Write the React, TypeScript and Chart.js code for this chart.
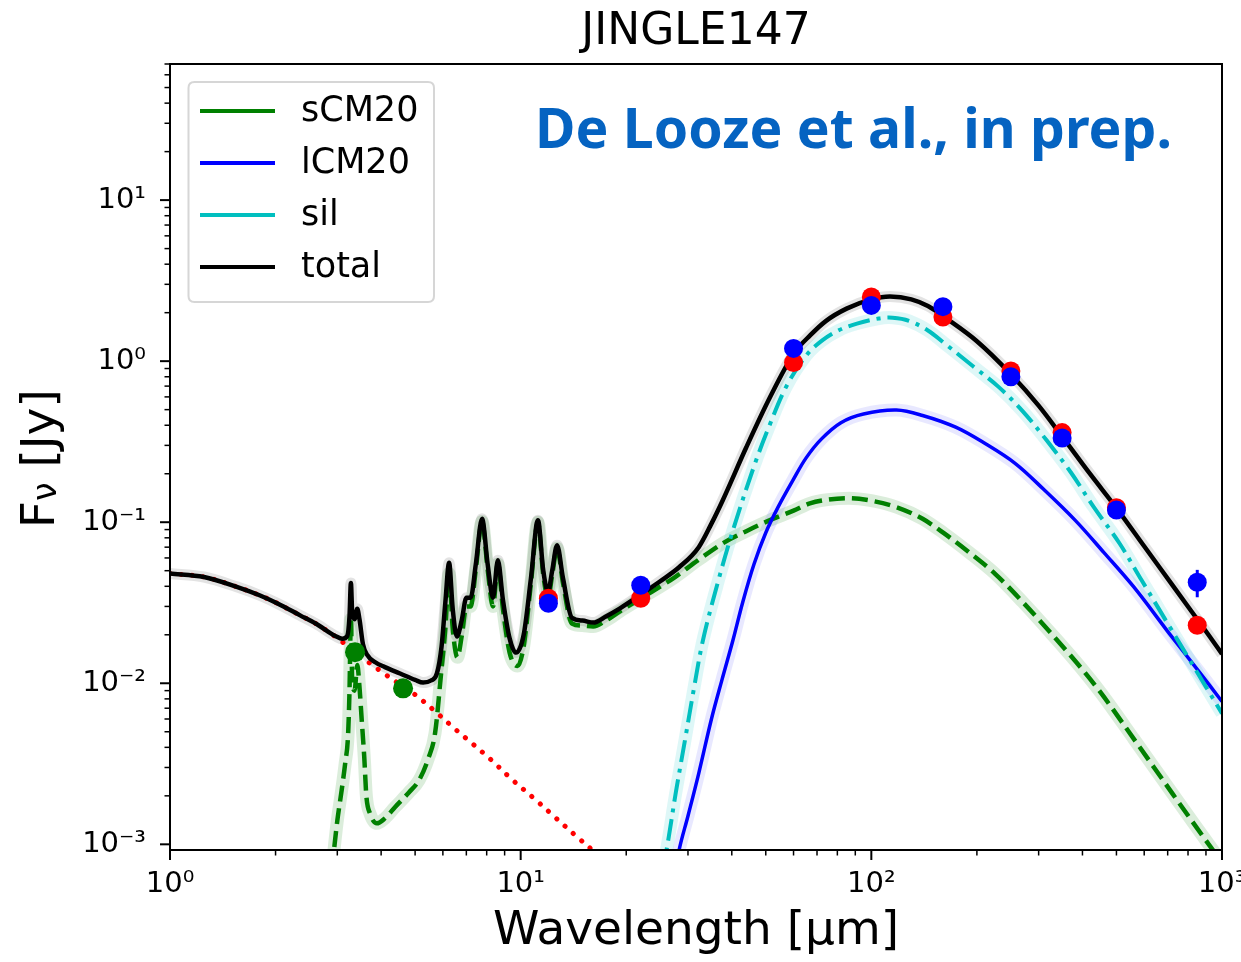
import React, { useEffect, useRef } from "react";
import { Chart, registerables } from "chart.js";

Chart.register(...registerables);

// ---------------- data ----------------
const titleText = "JINGLE147";
const xAxisTitle = "Wavelength [μm]";
const yTitleParts = ["F", "ν", " [Jy]"];
const annotationText = "De Looze et al., in prep.";

const xTickValues = [1, 10, 100, 1000];
const xTickLabels = ["10⁰", "10¹", "10²", "10³"];
const yTickValues = [0.001, 0.01, 0.1, 1, 10];
const yTickLabels = ["10⁻³", "10⁻²", "10⁻¹", "10⁰", "10¹"];

// stellar component (red dotted)
const stellarX = [1, 1.25, 1.55, 1.8, 2.02, 2.35, 2.61, 2.97, 3.3, 3.7, 4.1, 4.6, 5.0, 5.7, 6.5, 7.3, 8.17, 9.5, 11, 12.5, 14.5, 16.3, 18.5];
const stellarY = [0.048, 0.0457, 0.0397, 0.0352, 0.0314, 0.0264, 0.0234, 0.0194, 0.0162, 0.0134, 0.0114, 0.0096, 0.0085, 0.0067, 0.0052, 0.0042, 0.0034, 0.0025, 0.0019, 0.00148, 0.00111, 0.00089, 0.00069];

// total model (black)
const totalX = [1, 1.25, 1.55, 1.8, 2.02, 2.35, 2.61, 2.97, 3.1, 3.2, 3.25, 3.28, 3.31, 3.36, 3.42, 3.47, 3.55, 3.65, 3.85, 4.1, 4.53, 5.0, 5.27, 5.55, 5.77, 5.95, 6.1, 6.25, 6.4, 6.58, 6.8, 7.0, 7.2, 7.45, 7.76, 8.05, 8.34, 8.61, 8.9, 9.3, 9.7, 10.2, 10.7, 11.2, 11.6, 11.97, 12.3, 12.7, 13.2, 14.0, 15.0, 16.1, 17.5, 19.2, 22.2, 25, 28.3, 32.2, 35, 37.7, 44, 51.4, 60.2, 67, 74.3, 85, 100, 113, 130, 145, 165, 200, 250, 300, 352, 420, 505, 600, 724, 820, 918, 1000];
const totalY = [0.048, 0.0457, 0.0397, 0.0352, 0.0314, 0.0264, 0.0234, 0.0196, 0.0189, 0.0196, 0.026, 0.042, 0.027, 0.025, 0.029, 0.025, 0.0175, 0.015, 0.0135, 0.0126, 0.0115, 0.0105, 0.0101, 0.0104, 0.0115, 0.017, 0.032, 0.056, 0.029, 0.0195, 0.025, 0.034, 0.034, 0.055, 0.105, 0.055, 0.034, 0.058, 0.033, 0.019, 0.0155, 0.02, 0.045, 0.103, 0.05, 0.037, 0.05, 0.072, 0.045, 0.0255, 0.0245, 0.0238, 0.026, 0.0292, 0.036, 0.043, 0.0525, 0.07, 0.098, 0.137, 0.292, 0.597, 1.12, 1.45, 1.78, 2.12, 2.42, 2.52, 2.42, 2.2, 1.82, 1.33, 0.83, 0.53, 0.335, 0.2, 0.119, 0.0709, 0.0404, 0.0278, 0.0198, 0.0152];

// sCM20 (green dashed)
const sCM20X = [2.85, 2.94, 3.0, 3.09, 3.16, 3.22, 3.25, 3.28, 3.31, 3.36, 3.42, 3.47, 3.52, 3.58, 3.63, 3.72, 3.89, 4.1, 4.38, 4.8, 5.13, 5.45, 5.7, 5.93, 6.1, 6.25, 6.4, 6.6, 6.8, 7.0, 7.2, 7.45, 7.76, 8.05, 8.34, 8.61, 8.9, 9.3, 9.8, 10.2, 10.7, 11.2, 11.6, 11.97, 12.3, 12.7, 13.2, 14.0, 15.0, 16.1, 17.5, 19.2, 22.2, 27.5, 32, 37.7, 44, 51.4, 60, 66.8, 75, 86.3, 100, 118, 140, 161, 190, 225, 270, 325, 381, 450, 561, 640, 724, 830, 942, 1000];
const sCM20Y = [0.0005, 0.00095, 0.0014, 0.0022, 0.0032, 0.0048, 0.009, 0.025, 0.01, 0.009, 0.013, 0.0095, 0.006, 0.0035, 0.002, 0.00155, 0.00135, 0.00145, 0.0017, 0.0021, 0.0025, 0.0034, 0.0049, 0.0115, 0.022, 0.048, 0.022, 0.0145, 0.02, 0.03, 0.03, 0.051, 0.101, 0.051, 0.03, 0.055, 0.029, 0.0155, 0.0128, 0.017, 0.042, 0.1, 0.047, 0.034, 0.047, 0.069, 0.042, 0.0235, 0.0228, 0.0225, 0.0245, 0.028, 0.034, 0.0455, 0.058, 0.074, 0.088, 0.103, 0.118, 0.131, 0.138, 0.141, 0.136, 0.124, 0.105, 0.0855, 0.065, 0.048, 0.032, 0.0205, 0.0138, 0.0088, 0.0045, 0.003, 0.00205, 0.00135, 0.00092, 0.00077];

// lCM20 (blue solid)
const lCM20X = [27, 28.3, 30, 32.2, 35, 37.5, 40.3, 43, 46.3, 50, 54.2, 60, 65.1, 72, 81.9, 95, 118, 140, 174, 210, 257, 310, 381, 460, 561, 706, 850, 1000];
const lCM20Y = [0.0005, 0.00092, 0.0015, 0.00276, 0.006, 0.0105, 0.0185, 0.032, 0.055, 0.086, 0.124, 0.185, 0.25, 0.328, 0.415, 0.47, 0.497, 0.46, 0.389, 0.31, 0.232, 0.16, 0.103, 0.065, 0.0395, 0.0205, 0.0122, 0.0077];

// sil (cyan dash-dot)
const silX = [25, 26.1, 27.7, 29.4, 31.2, 33.1, 36.5, 40.3, 46.3, 51.4, 57.1, 65.1, 72.3, 81, 91, 105, 115, 128, 145, 161, 195, 231, 270, 317, 370, 431, 510, 590, 700, 800, 900, 1000];
const silY = [0.0006, 0.00094, 0.0021, 0.0044, 0.0093, 0.0185, 0.0423, 0.089, 0.223, 0.406, 0.69, 1.08, 1.34, 1.56, 1.71, 1.84, 1.86, 1.78, 1.55, 1.3, 0.93, 0.69, 0.49, 0.32, 0.205, 0.124, 0.074, 0.0436, 0.0235, 0.0145, 0.0095, 0.0065];

// photometry
const photX = [12, 22, 60, 100, 160, 250, 350, 500, 850];
const photRedY = [0.0337, 0.0337, 0.98, 2.5, 1.88, 0.87, 0.36, 0.123, 0.0229];
const photBlueY = [0.0314, 0.0406, 1.2, 2.22, 2.18, 0.8, 0.333, 0.119, 0.0424];
const photBlueErr = [0, 0, 0, 0, 0, 0, 0, 0, 0.0082];

const nirX = [3.37, 4.62];
const nirY = [0.0156, 0.0093];

// ---------------- helpers ----------------
const FONT = '"DejaVu Sans", sans-serif';
const pts = (xs: number[], ys: number[]) => xs.map((x, i) => ({ x, y: ys[i] }));

function errPoints(xs: number[], ys: number[], es: number[]) {
  const out: any[] = [];
  xs.forEach((x, i) => {
    if (es[i] > 0) {
      out.push({ x, y: ys[i] - es[i] }, { x, y: ys[i] + es[i] }, { x, y: null });
    }
  });
  return out;
}

const curve = (
  label: string,
  xs: number[],
  ys: number[],
  color: string,
  width: number,
  dash: number[],
  order: number,
  legend: boolean,
  smooth: "monotone" | "tension",
  cap = "butt"
) => ({
  type: "scatter",
  label,
  data: pts(xs, ys),
  showLine: true,
  borderColor: color,
  backgroundColor: color,
  borderWidth: width,
  borderDash: dash,
  borderCapStyle: cap,
  borderJoinStyle: "round",
  pointRadius: 0,
  cubicInterpolationMode: smooth === "monotone" ? "monotone" : "default",
  tension: smooth === "monotone" ? 0 : 0.35,
  clip: 0,
  order,
  legendEntry: legend,
});

const decorPlugin = {
  id: "decor",
  afterDraw(chart: any) {
    const { ctx, chartArea: a, scales } = chart;
    const x = scales.x;
    const y = scales.y;
    ctx.save();
    ctx.strokeStyle = "#000";
    const seg = (x1: number, y1: number, x2: number, y2: number, w: number) => {
      ctx.lineWidth = w;
      ctx.beginPath();
      ctx.moveTo(x1, y1);
      ctx.lineTo(x2, y2);
      ctx.stroke();
    };
    // x ticks
    for (let d = 0; d < 3; d++) {
      for (let k = 2; k <= 9; k++) {
        const px = x.getPixelForValue(k * Math.pow(10, d));
        seg(px, a.bottom, px, a.bottom + 5.5, 1.5);
      }
    }
    xTickValues.forEach((v) => {
      const px = x.getPixelForValue(v);
      seg(px, a.bottom, px, a.bottom + 10, 2);
    });
    // y ticks
    for (let d = -4; d <= 1; d++) {
      for (let k = 2; k <= 9; k++) {
        const v = k * Math.pow(10, d);
        if (v < y.min || v > y.max) continue;
        const py = y.getPixelForValue(v);
        seg(a.left - 5.5, py, a.left, py, 1.5);
      }
    }
    yTickValues.forEach((v) => {
      const py = y.getPixelForValue(v);
      seg(a.left - 10, py, a.left, py, 2);
    });
    // frame
    ctx.lineWidth = 2;
    ctx.strokeRect(a.left, a.top, a.right - a.left, a.bottom - a.top);

    // legend
    const entries = chart.data.datasets.filter((d: any) => d.legendEntry);
    const bx = 188.5, by = 82, bw = 245.5, bh = 220, r = 6;
    ctx.beginPath();
    ctx.moveTo(bx + r, by);
    ctx.lineTo(bx + bw - r, by);
    ctx.quadraticCurveTo(bx + bw, by, bx + bw, by + r);
    ctx.lineTo(bx + bw, by + bh - r);
    ctx.quadraticCurveTo(bx + bw, by + bh, bx + bw - r, by + bh);
    ctx.lineTo(bx + r, by + bh);
    ctx.quadraticCurveTo(bx, by + bh, bx, by + bh - r);
    ctx.lineTo(bx, by + r);
    ctx.quadraticCurveTo(bx, by, bx + r, by);
    ctx.closePath();
    ctx.fillStyle = "rgba(255,255,255,0.8)";
    ctx.fill();
    ctx.lineWidth = 2;
    ctx.strokeStyle = "#d6d6d6";
    ctx.stroke();
    ctx.font = `35px ${FONT}`;
    ctx.textBaseline = "middle";
    ctx.textAlign = "left";
    entries.forEach((d: any, i: number) => {
      const ly = 111 + i * 52;
      ctx.strokeStyle = d.borderColor;
      ctx.setLineDash([]);
      seg(200, ly, 275, ly, 4);
      ctx.fillStyle = "#000";
      ctx.fillText(d.label, 301, ly + 1);
    });

    // annotation text
    ctx.font = `700 56px "Noto Sans", "Open Sans", sans-serif`;
    ctx.textBaseline = "alphabetic";
    const tw = ctx.measureText(annotationText).width;
    ctx.save();
    ctx.translate(535, 148);
    ctx.scale(637 / tw, 1);
    ctx.fillStyle = "#0563C1";
    ctx.fillText(annotationText, 0, 0);
    ctx.restore();

    // y axis title with subscript
    ctx.save();
    ctx.translate(54, 528);
    ctx.rotate(-Math.PI / 2);
    ctx.fillStyle = "#000";
    ctx.textBaseline = "alphabetic";
    ctx.textAlign = "left";
    ctx.font = `47px ${FONT}`;
    ctx.fillText(yTitleParts[0], 0, 0);
    let w = ctx.measureText(yTitleParts[0]).width;
    ctx.font = `33px ${FONT}`;
    ctx.fillText(yTitleParts[1], w, 2);
    w += ctx.measureText(yTitleParts[1]).width;
    ctx.font = `47px ${FONT}`;
    ctx.fillText(yTitleParts[2], w, 0);
    ctx.restore();

    ctx.restore();
  },
};

export default function App() {
  const ref = useRef<HTMLCanvasElement | null>(null);

  useEffect(() => {
    if (!ref.current) return;
    const datasets: any[] = [
      // uncertainty bands
      curve("band sCM20", sCM20X, sCM20Y, "rgba(0,128,0,0.14)", 13, [], 90, false, "monotone"),
      curve("band lCM20", lCM20X, lCM20Y, "rgba(0,0,255,0.09)", 13, [], 89, false, "tension"),
      curve("band sil", silX, silY, "rgba(0,191,191,0.13)", 13, [], 88, false, "tension"),
      curve("band total", totalX, totalY, "rgba(0,0,0,0.11)", 11, [], 87, false, "monotone"),
      // model lines
      curve("sCM20", sCM20X, sCM20Y, "#008000", 4.5, [16, 7], 40, true, "monotone"),
      curve("lCM20", lCM20X, lCM20Y, "#0000ff", 3.5, [], 39, true, "tension"),
      curve("sil", silX, silY, "#00bfbf", 4, [22, 7, 4, 7], 38, true, "tension"),
      curve("stellar", stellarX, stellarY, "#ff0000", 5, [0.1, 11], 37, false, "tension", "round"),
      curve("total", totalX, totalY, "#000000", 4.5, [], 36, true, "monotone"),
      // photometry
      {
        type: "scatter",
        label: "NIR",
        data: pts(nirX, nirY),
        pointRadius: 10,
        pointBackgroundColor: "#008000",
        pointBorderWidth: 0,
        order: 5,
      },
      {
        type: "scatter",
        label: "observed",
        data: pts(photX, photRedY),
        pointRadius: 9.5,
        pointBackgroundColor: "#ff0000",
        pointBorderWidth: 0,
        order: 4,
      },
      {
        type: "scatter",
        label: "error",
        data: errPoints(photX, photBlueY, photBlueErr),
        showLine: true,
        spanGaps: false,
        borderColor: "#0000ff",
        borderWidth: 3,
        pointRadius: 0,
        order: 3,
      },
      {
        type: "scatter",
        label: "model",
        data: pts(photX, photBlueY),
        pointRadius: 9.5,
        pointBackgroundColor: "#0000ff",
        pointBorderWidth: 0,
        order: 2,
      },
    ];

    const chart = new Chart(ref.current, {
      type: "scatter",
      data: { datasets },
      options: {
        responsive: false,
        animation: false,
        events: [],
        layout: { padding: { left: 0, right: 19, top: 0, bottom: 0 } },
        plugins: {
          legend: { display: false },
          tooltip: { enabled: false },
          title: {
            display: true,
            text: titleText,
            fullSize: false,
            color: "#000",
            font: { family: FONT, size: 44, weight: "normal", lineHeight: 1.2 },
            padding: { top: 6, bottom: 5.2 },
          },
        },
        scales: {
          x: {
            type: "logarithmic",
            min: 1,
            max: 1000,
            bounds: "data",
            grid: { display: false, drawTicks: false },
            border: { display: false },
            afterBuildTicks: (s: any) => {
              s.ticks = xTickValues.map((v) => ({ value: v }));
            },
            afterFit: (s: any) => {
              s.height = 112;
              s.paddingLeft = 0;
              s.paddingRight = 0;
            },
            ticks: {
              autoSkip: false,
              maxRotation: 0,
              minRotation: 0,
              padding: 16.6,
              color: "#000",
              font: { family: FONT, size: 29 },
              callback: (v: any) => {
                const i = xTickValues.indexOf(Number(v));
                return i >= 0 ? xTickLabels[i] : "";
              },
            },
            title: {
              display: true,
              text: xAxisTitle,
              color: "#000",
              font: { family: FONT, size: 47, lineHeight: 1.2 },
              padding: { top: 0, bottom: 1.8 },
            },
          },
          y: {
            type: "logarithmic",
            min: 0.000922,
            max: 70,
            bounds: "data",
            grid: { display: false, drawTicks: false },
            border: { display: false },
            afterBuildTicks: (s: any) => {
              s.ticks = yTickValues.map((v) => ({ value: v }));
            },
            afterFit: (s: any) => {
              s.width = 170;
              s.paddingTop = 0;
              s.paddingBottom = 0;
            },
            ticks: {
              autoSkip: false,
              padding: 24,
              color: "#000",
              font: { family: FONT, size: 29 },
              callback: (v: any) => {
                const i = yTickValues.indexOf(Number(v));
                return i >= 0 ? yTickLabels[i] : "";
              },
            },
          },
        },
      },
      plugins: [decorPlugin],
    } as any);

    return () => chart.destroy();
  }, []);

  return (
    <div style={{ position: "fixed", left: 0, top: 0, width: 1241, height: 962, background: "#fff" }}>
      <canvas ref={ref} width={1241} height={962} style={{ display: "block" }} />
    </div>
  );
}
